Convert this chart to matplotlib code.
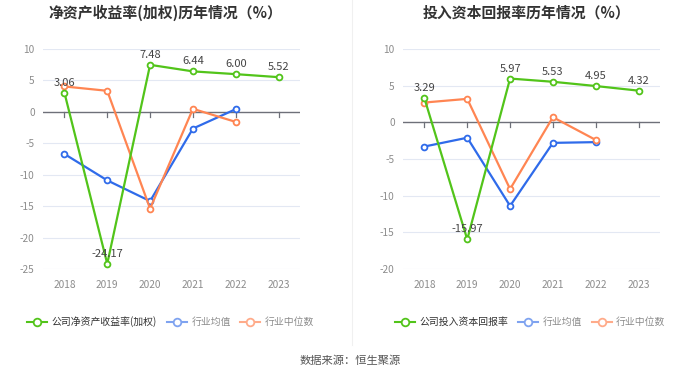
import matplotlib

matplotlib.use("Agg")
import matplotlib.pyplot as plt
from matplotlib.lines import Line2D

plt.rcParams["font.family"] = ["Noto Sans CJK SC", "DejaVu Sans"]

years = ["2018", "2019", "2020", "2021", "2022", "2023"]

# 左图: 净资产收益率(加权)
roe_company = [3.06, -24.17, 7.48, 6.44, 6.00, 5.52]
roe_avg = [-6.7, -10.9, -14.2, -2.66, 0.43]
roe_median = [4.04, 3.35, -15.4, 0.48, -1.6]

# 右图: 投入资本回报率
roic_company = [3.29, -15.97, 5.97, 5.53, 4.95, 4.32]
roic_avg = [-3.3, -2.1, -11.4, -2.8, -2.7]
roic_median = [2.7, 3.2, -9.1, 0.7, -2.4]

GREEN = "#52c41a"
BLUE = "#2f6bea"
ORANGE = "#ff8552"
W, H = 700, 378


def px_box(x0, y0, x1, y1):
    return [x0 / W, 1 - y1 / H, (x1 - x0) / W, (y1 - y0) / H]


def draw_panel(fig, box, title, title_x, company, avg, median, ylim, yticks, legend_items):
    ax = fig.add_axes(px_box(*box))
    x = list(range(len(years)))
    ax.set_xlim(-0.5, len(years) - 0.5)
    ax.set_ylim(*ylim)
    for t in yticks:
        if t == 0:
            ax.axhline(0, color="#6e7079", lw=1.0, zorder=2)
        else:
            ax.axhline(t, color="#e3e8f3", lw=0.8, zorder=1)
    ax.set_yticks(yticks)
    ax.set_yticklabels([str(t) for t in yticks], color="#8c8c8c", fontsize=7.3)
    ax.set_xticks(x)
    ax.set_xticklabels(years, color="#8c8c8c", fontsize=7.3)
    ax.tick_params(axis="both", length=0, pad=8)
    ax.tick_params(axis="y", pad=6)
    for s in ax.spines.values():
        s.set_visible(False)
    # 零轴刻度
    span = ylim[1] - ylim[0]
    for xi in x:
        ax.plot([xi, xi], [0, -span * 0.022], color="#6e7079", lw=0.9, zorder=2)

    mk = dict(marker="o", ms=4.2, mfc="white", mew=1.3, lw=1.6, zorder=4)
    ax.plot(x[:len(avg)], avg, color=BLUE, **mk)
    ax.plot(x[:len(median)], median, color=ORANGE, **mk)
    ax.plot(x, company, color=GREEN, **mk)
    for xi, v in zip(x, company):
        ax.annotate(f"{v:.2f}", (xi, v), xytext=(0, 5), textcoords="offset pixels",
                    ha="center", va="bottom", fontsize=8, color="#444444", zorder=5)

    fig.text(title_x / W, 1 - 13 / H, title, ha="center", va="center",
             fontsize=10.7, fontweight="bold", color="#333333")

    ly = 1 - 322 / H
    for lx, tx, label, col, tcol in legend_items:
        fig.add_artist(Line2D([(lx - 10) / W, (lx + 10) / W], [ly, ly], color=col, lw=1.5,
                              transform=fig.transFigure))
        fig.add_artist(Line2D([lx / W], [ly], marker="o", ms=5.5, mfc="white", mec=col, mew=1.3,
                              color=col, transform=fig.transFigure))
        fig.text(tx / W, ly, label, ha="left", va="center", fontsize=7.1, color=tcol)


fig = plt.figure(figsize=(W / 100, H / 100), dpi=100)

draw_panel(
    fig, (43, 49, 300, 269), "净资产收益率(加权)历年情况（%）", 165,
    roe_company, roe_avg, roe_median, (-25, 10), [10, 5, 0, -5, -10, -15, -20, -25],
    [(37, 52, "公司净资产收益率(加权)", GREEN, "#333333"),
     (177, 192, "行业均值", "#7fa3f0", "#8c8c8c"),
     (250, 265, "行业中位数", "#ffab8a", "#8c8c8c")],
)
draw_panel(
    fig, (403, 49, 660, 269), "投入资本回报率历年情况（%）", 527,
    roic_company, roic_avg, roic_median, (-20, 10), [10, 5, 0, -5, -10, -15, -20],
    [(405, 420, "公司投入资本回报率", GREEN, "#333333"),
     (528, 543, "行业均值", "#7fa3f0", "#8c8c8c"),
     (602, 616, "行业中位数", "#ffab8a", "#8c8c8c")],
)

fig.add_artist(Line2D([352 / W, 352 / W], [1 - 345 / H, 1], color="#f0f0f0", lw=0.8,
                      transform=fig.transFigure))
fig.text(350 / W, 1 - 361 / H, "数据来源：恒生聚源", ha="center", va="center",
         fontsize=8.1, color="#555555")

fig.savefig("out.png", dpi=100)
